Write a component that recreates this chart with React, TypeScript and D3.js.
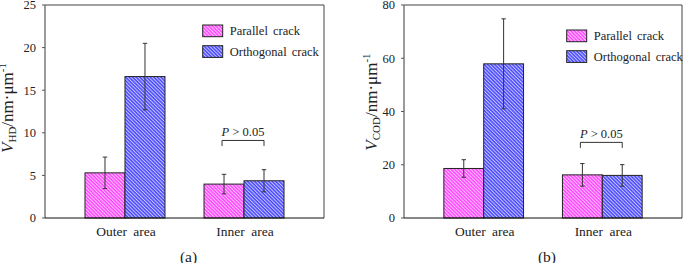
import React from "react";
import * as d3 from "d3";

const categories = ["Outer area", "Inner area"];
const seriesNames = ["Parallel crack", "Orthogonal crack"];

const parallelA = [5.3, 3.98];
const parallelAErr = [1.85, 1.15];
const orthogonalA = [16.6, 4.37];
const orthogonalAErr = [3.9, 1.3];
const ticksA = [0, 5, 10, 15, 20, 25];

const parallelB = [18.6, 16.2];
const parallelBErr = [3.3, 4.25];
const orthogonalB = [57.9, 16.0];
const orthogonalBErr = [16.9, 4.05];
const ticksB = [0, 20, 40, 60, 80];

const pLabel = "> 0.05";
const bracketA = 9.1;
const bracketB = 28.4;

const FONT = "Liberation Serif, DejaVu Serif, serif";

type PanelProps = {
  x0: number;
  x1: number;
  yMax: number;
  ticks: number[];
  par: number[];
  parErr: number[];
  orth: number[];
  orthErr: number[];
  sub: string;
  labelX: number;
  labelY: number;
  legendX: number;
  legendY: number;
  bracket: number;
  letter: string;
};

function Panel(p: PanelProps) {
  const top = 5;
  const bottom = 218;
  const x = d3
    .scaleBand<string>()
    .domain(categories)
    .range([p.x0, p.x1])
    .paddingInner(0.328)
    .paddingOuter(0.336);
  const xs = d3
    .scaleBand<string>()
    .domain(seriesNames)
    .range([0, x.bandwidth()])
    .padding(0);
  const y = d3.scaleLinear().domain([0, p.yMax]).range([bottom, top]);
  const vals = [p.par, p.orth];
  const errs = [p.parErr, p.orthErr];
  const fills = ["url(#patPink)", "url(#patBlue)"];
  const cap = 2.2;

  const innerCat = categories[1];
  const bx0 = (x(innerCat) as number) + (xs(seriesNames[0]) as number) + xs.bandwidth() / 2 - 2;
  const bx1 = (x(innerCat) as number) + (xs(seriesNames[1]) as number) + xs.bandwidth() / 2;
  const by = y(p.bracket);

  return (
    <g style={{ fontFamily: FONT }}>
      {categories.map((c, ci) =>
        seriesNames.map((s, si) => {
          const bxx = (x(c) as number) + (xs(s) as number);
          const v = vals[si][ci];
          const e = errs[si][ci];
          const cx = bxx + xs.bandwidth() / 2;
          return (
            <g key={c + s}>
              <rect
                x={bxx}
                y={y(v)}
                width={xs.bandwidth()}
                height={bottom - y(v)}
                fill={fills[si]}
                stroke="#222"
                strokeWidth={1}
              />
              <line x1={cx} x2={cx} y1={y(v + e)} y2={y(v - e)} stroke="#333" strokeWidth={1} />
              <line x1={cx - cap} x2={cx + cap} y1={y(v + e)} y2={y(v + e)} stroke="#333" strokeWidth={1} />
              <line x1={cx - cap} x2={cx + cap} y1={y(v - e)} y2={y(v - e)} stroke="#333" strokeWidth={1} />
            </g>
          );
        })
      )}
      <line x1={p.x0} x2={p.x1} y1={top} y2={top} stroke="#444" strokeWidth={1} />
      <line x1={p.x1} x2={p.x1} y1={top} y2={bottom} stroke="#444" strokeWidth={1} />
      <line x1={p.x0} x2={p.x0} y1={top} y2={bottom} stroke="#666" strokeWidth={1.3} />
      <line x1={p.x0} x2={p.x1} y1={bottom} y2={bottom} stroke="#111" strokeWidth={1.2} />
      {p.ticks.map((t) => (
        <g key={t}>
          <line x1={p.x0 - 3} x2={p.x0} y1={y(t)} y2={y(t)} stroke="#555" strokeWidth={1} />
          <text x={p.x0 - 9} y={y(t)} dy="0.35em" textAnchor="end" fontSize={12.5} fill="#222">
            {t}
          </text>
        </g>
      ))}
      {categories.map((c) => (
        <text
          key={c}
          x={(x(c) as number) + x.bandwidth() / 2 + 1}
          y={236}
          textAnchor="middle"
          fontSize={13.5}
          wordSpacing={3}
          fill="#222"
        >
          {c}
        </text>
      ))}
      <text x={(p.x0 + p.x1) / 2 + 4} y={261.5} textAnchor="middle" fontSize={15.5} fill="#222">
        {p.letter}
      </text>
      <text
        transform={`translate(${p.labelX},${p.labelY}) rotate(-90)`}
        textAnchor="middle"
        fontSize={17}
        fill="#222"
      >
        <tspan fontStyle="italic">V</tspan>
        <tspan fontSize={11} dy={3}>
          {p.sub}
        </tspan>
        <tspan dy={-3}>/nm·μm</tspan>
        <tspan fontSize={11} dy={-7}>
          -1
        </tspan>
      </text>
      {seriesNames.map((s, si) => (
        <g key={s}>
          <rect
            x={p.legendX}
            y={p.legendY + si * 20.7}
            width={20}
            height={11.7}
            fill={fills[si]}
            stroke="#222"
            strokeWidth={1}
          />
          <text
            x={p.legendX + 27}
            y={p.legendY + si * 20.7 + 10}
            fontSize={12.5}
            wordSpacing={2}
            fill="#222"
          >
            {s}
          </text>
        </g>
      ))}
      <path
        d={`M${bx0},${by + 5.5}V${by}H${bx1}V${by + 5.5}`}
        fill="none"
        stroke="#333"
        strokeWidth={1}
      />
      <text x={(bx0 + bx1) / 2} y={by - 4} textAnchor="middle" fontSize={12.5} fill="#222">
        <tspan fontStyle="italic">P</tspan> {pLabel}
      </text>
    </g>
  );
}

export default function App() {
  return (
    <div style={{ position: "absolute", left: 0, top: 0 }}>
      <svg width={685} height={263} style={{ display: "block", background: "#fff" }}>
        <defs>
          <pattern
            id="patPink"
            patternUnits="userSpaceOnUse"
            width={2.5}
            height={2.5}
            patternTransform="rotate(-45)"
          >
            <rect width={2.5} height={2.5} fill="#ff44ff" />
            <rect width={1} height={2.5} fill="#ffc8ff" />
          </pattern>
          <pattern
            id="patBlue"
            patternUnits="userSpaceOnUse"
            width={2.5}
            height={2.5}
            patternTransform="rotate(-45)"
          >
            <rect width={2.5} height={2.5} fill="#4848ff" />
            <rect width={1} height={2.5} fill="#c8c8ff" />
          </pattern>
        </defs>
        <Panel
          x0={45}
          x1={324}
          yMax={25}
          ticks={ticksA}
          par={parallelA}
          parErr={parallelAErr}
          orth={orthogonalA}
          orthErr={orthogonalAErr}
          sub="HD"
          labelX={13}
          labelY={108}
          legendX={202.7}
          legendY={25}
          bracket={bracketA}
          letter="(a)"
        />
        <Panel
          x0={404}
          x1={682}
          yMax={80}
          ticks={ticksB}
          par={parallelB}
          parErr={parallelBErr}
          orth={orthogonalB}
          orthErr={orthogonalBErr}
          sub="COD"
          labelX={377}
          labelY={102}
          legendX={566.7}
          legendY={30}
          bracket={bracketB}
          letter="(b)"
        />
      </svg>
    </div>
  );
}
